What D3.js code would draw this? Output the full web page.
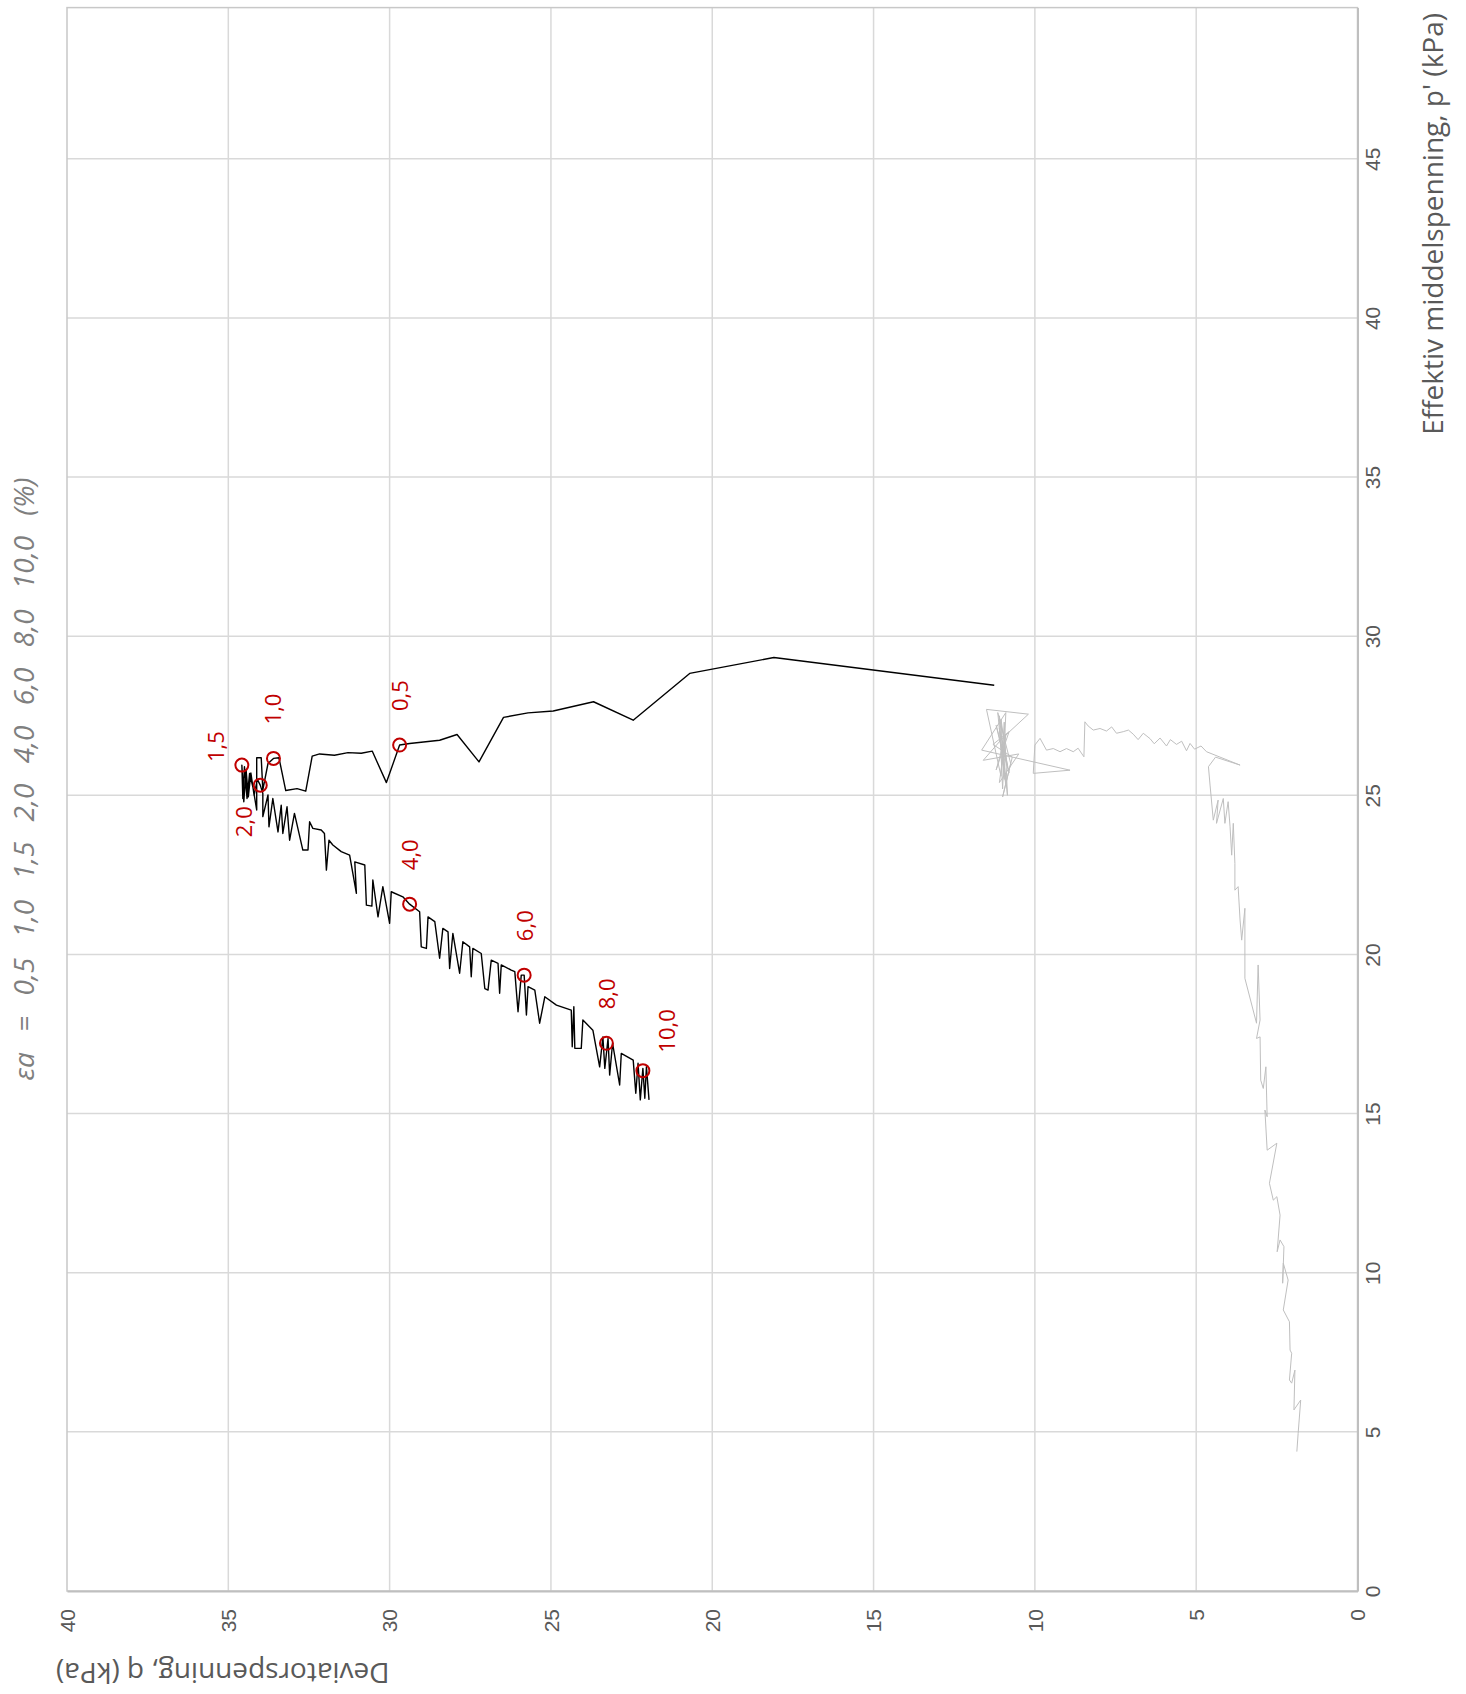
<!DOCTYPE html>
<html>
<head>
<meta charset="utf-8">
<script src="https://cdn.jsdelivr.net/npm/d3@7"></script>
<style>
  body { margin: 0; background: #fff; }
  svg { display: block; font-family: "Open Sans", sans-serif; }
</style>
</head>
<body>
<svg id="chart" width="1466" height="1694"></svg>
<script>
// ---------------------------
// Data (q = deviatorspenning, p = effektiv middelspenning, kPa)
// ---------------------------
const blackQ = [11.26, 18.09, 20.70, 22.45, 23.68, 24.93, 25.71, 26.47, 27.23, 27.91, 28.45, 29.38, 29.69,
  30.10, 30.54, 30.88, 31.29, 31.71, 32.17, 32.40, 32.60, 32.87, 33.22, 33.43, 33.60,
  33.77, 33.93, 33.98, 34.12, 34.12, 34.24, 34.34, 34.42, 34.50, 34.55, 34.58,
  34.52, 34.45, 34.38, 34.30, 34.20, 34.10, 34.01,
  33.93, 33.93, 33.77, 33.74, 33.62, 33.46, 33.36, 33.31, 33.18, 33.10, 32.95, 32.69, 32.53, 32.48,
  32.38, 32.12, 32.02, 31.96, 31.88, 31.76, 31.50, 31.24, 31.03, 31.08, 30.77, 30.72, 30.55, 30.52,
  30.36, 30.21, 30.00, 29.95, 29.59, 29.38, 29.07, 29.02, 28.86, 28.81, 28.60, 28.45, 28.35, 28.19,
  28.14, 28.04, 27.83, 27.73, 27.52, 27.47, 27.42, 27.16, 27.05, 26.95, 26.85, 26.64, 26.59, 26.54,
  26.23, 26.12, 26.02, 25.92, 25.83, 25.76, 25.71, 25.50, 25.35, 25.19, 24.83, 24.37, 24.34, 24.29,
  24.26, 24.06, 24.01, 23.70, 23.49, 23.39, 23.33, 23.23, 23.18, 23.09, 22.87, 22.82, 22.45, 22.37,
  22.30, 22.23, 22.15, 22.09, 22.04, 21.96];
const blackP = [28.46, 29.33, 28.83, 27.36, 27.94, 27.65, 27.59, 27.45, 26.05, 26.91, 26.73, 26.63, 26.58,
  25.40, 26.39, 26.32, 26.34, 26.26, 26.30, 26.23, 25.13, 25.21, 25.15, 26.18, 26.16,
  26.00, 25.17, 26.18, 26.18, 24.54, 25.27, 25.69, 24.90, 25.90, 24.90, 25.95,
  24.80, 25.80, 24.95, 25.70, 25.00, 25.50, 25.32,
  25.06, 24.33, 25.01, 24.01, 24.90, 23.85, 24.69, 23.80, 24.64, 23.59, 24.43, 23.28, 23.28, 24.17,
  23.96, 23.91, 23.80, 22.65, 23.59, 23.44, 23.23, 23.12, 21.92, 22.91, 22.81, 21.55, 21.52, 22.34,
  21.18, 22.13, 20.98, 21.97, 21.81, 21.58, 21.34, 20.24, 20.19, 21.18, 21.03, 19.88, 20.82, 20.71,
  19.56, 20.66, 19.41, 20.40, 20.24, 19.30, 20.19, 20.03, 18.93, 18.88, 19.82, 19.72, 18.78, 19.67,
  19.51, 19.46, 18.20, 19.35, 19.35, 18.10, 18.99, 18.88, 17.84, 18.67, 18.41, 18.25, 17.10, 18.36,
  17.05, 17.05, 17.94, 17.62, 16.47, 17.41, 16.42, 17.36, 16.21, 17.21, 15.90, 16.89, 16.68, 15.64,
  16.58, 15.43, 16.42, 15.48, 16.47, 15.43];

const grayQ = [1.88, 1.84, 1.76, 1.97, 1.94, 2.04, 2.11, 2.04, 2.09, 2.11, 2.30, 2.15, 2.30, 2.32, 2.28,
  2.40, 2.49, 2.40, 2.50, 2.61, 2.73, 2.50, 2.80, 2.87, 2.80, 2.84, 2.92, 3.00, 3.02, 3.13, 3.02, 3.08,
  3.13, 3.49, 3.49, 3.59, 3.64, 3.70, 3.80, 3.80, 3.85, 3.90, 3.95, 4.01, 4.11, 4.16, 4.37, 4.32, 4.47,
  4.57, 4.62, 4.40, 3.64, 4.68, 4.85, 5.05, 5.19, 5.30, 5.45, 5.61, 5.80, 5.92, 6.12, 6.30, 6.43, 6.64,
  6.80, 6.95, 7.10, 7.26, 7.47, 7.62, 7.78, 7.98, 8.19, 8.35, 8.45, 8.48, 8.66, 8.81, 9.02, 9.22, 9.43,
  9.64, 9.84, 10.00, 10.05, 8.91, 11.65, 10.90, 11.00, 11.10, 10.85, 10.95, 11.05, 11.50, 10.20, 11.00,
  11.60, 10.50, 11.10, 10.90, 11.20, 10.80, 11.30, 10.70, 11.00, 10.75, 11.15, 10.95, 11.05, 10.85,
  11.10, 10.90, 11.00, 10.80, 11.20, 10.95, 11.05];
const grayP = [4.38, 4.95, 6.00, 5.69, 6.94, 6.53, 6.63, 7.47, 7.57, 8.46, 8.83, 9.77, 10.30, 9.67, 10.82,
  11.03, 10.66, 11.81, 12.39, 12.28, 12.81, 14.07, 13.85, 15.11, 14.90, 16.47, 15.79, 16.05, 17.41, 17.36,
  17.94, 19.67, 17.84, 19.25, 21.45, 20.45, 21.08, 22.13, 22.02, 22.86, 24.12, 23.12, 24.01, 24.80, 24.12,
  24.90, 24.12, 24.85, 24.22, 25.32, 25.90, 26.20, 25.95, 26.37, 26.55, 26.45, 26.63, 26.40, 26.70, 26.60,
  26.75, 26.55, 26.80, 26.62, 26.78, 26.95, 26.75, 26.92, 27.05, 27.00, 26.95, 27.15, 27.02, 27.10, 27.05,
  27.18, 27.31, 26.21, 26.48, 26.37, 26.47, 26.37, 26.47, 26.42, 26.79, 26.58, 25.69, 25.79, 26.42, 27.60,
  25.20, 27.50, 25.00, 27.30, 25.60, 27.70, 27.55, 26.80, 26.10, 26.30, 25.40, 26.90, 25.80, 27.00, 26.60,
  26.20, 24.95, 26.00, 27.60, 25.50, 27.40, 25.90, 27.10, 25.30, 26.70, 25.70, 27.20, 26.10, 26.50];

// Markers for axial strain
const strainEa = [0.5, 1.0, 1.5, 2.0, 4.0, 6.0, 8.0, 10.0];
const strainQ = [29.69, 33.60, 34.58, 34.01, 29.38, 25.83, 23.28, 22.15];
const strainP = [26.58, 26.16, 25.95, 25.32, 21.58, 19.35, 17.21, 16.35];

const qTicks = [0, 5, 10, 15, 20, 25, 30, 35, 40];
const pTicks = [0, 5, 10, 15, 20, 25, 30, 35, 40, 45];

// label placement (px) relative to marker: [along p' axis, across]
const labelOffset = [[34, 1], [34, 0], [3, -26], [-52, -16], [34, 1], [34, 1], [34, 1], [18, 24]];

// ---------------------------
// Layout
// ---------------------------
const svg = d3.select('#chart');
const plot = { left: 67, right: 1357.5, top: 7.6, bottom: 1591 };
const pMax = 49.75;

const qScale = d3.scaleLinear().domain([0, 40]).range([plot.right, plot.left]);
const pScale = d3.scaleLinear().domain([0, pMax]).range([plot.bottom, plot.top]);

const fmt = d3.formatLocale({ decimal: ',', thousands: ' ', grouping: [3], currency: ['', ''] }).format('.1f');

const tickColor = '#595959';
const gridColor = '#d9d9d9';

// grid
svg.append('g').selectAll('line.vq')
  .data(qTicks.filter(d => d > 0 && d < 40))
  .join('line')
  .attr('x1', d => qScale(d)).attr('x2', d => qScale(d))
  .attr('y1', plot.top).attr('y2', plot.bottom)
  .attr('stroke', gridColor).attr('stroke-width', 1.5);

svg.append('g').selectAll('line.hp')
  .data(pTicks.filter(d => d > 0))
  .join('line')
  .attr('x1', plot.left).attr('x2', plot.right)
  .attr('y1', d => pScale(d)).attr('y2', d => pScale(d))
  .attr('stroke', gridColor).attr('stroke-width', 1.5);

// plot frame
svg.append('rect')
  .attr('x', plot.left).attr('y', plot.top)
  .attr('width', plot.right - plot.left).attr('height', plot.bottom - plot.top)
  .attr('fill', 'none').attr('stroke', '#c8c8c8').attr('stroke-width', 1.5);

// axes
const qAxis = svg.append('g')
  .attr('transform', `translate(0,${plot.bottom})`)
  .call(d3.axisBottom(qScale).tickValues(qTicks).tickSize(0).tickFormat(d3.format('d')));
qAxis.select('.domain').attr('stroke', '#bfbfbf').attr('stroke-width', 2);
qAxis.selectAll('.tick text')
  .attr('fill', tickColor).attr('font-size', 21)
  .attr('text-anchor', 'end')
  .attr('y', 0).attr('dy', '0.35em')
  .attr('transform', 'translate(0,18) rotate(-90)');

const pAxis = svg.append('g')
  .attr('transform', `translate(${plot.right},0)`)
  .call(d3.axisRight(pScale).tickValues(pTicks).tickSize(0).tickFormat(d3.format('d')));
pAxis.select('.domain').attr('stroke', '#bfbfbf').attr('stroke-width', 2);
pAxis.selectAll('.tick text')
  .attr('fill', tickColor).attr('font-size', 21)
  .attr('text-anchor', 'middle')
  .attr('x', 0).attr('dy', '0.35em')
  .attr('transform', 'translate(15,0) rotate(-90)');

// axis titles
svg.append('text')
  .attr('transform', `translate(1433,13) rotate(-90)`)
  .attr('text-anchor', 'end').attr('dy', '0.35em')
  .attr('fill', tickColor).attr('font-size', 28)
  .text("Effektiv middelspenning, p' (kPa)");

svg.append('text')
  .attr('transform', `translate(56,1673) rotate(180)`)
  .attr('text-anchor', 'end').attr('dy', '0.35em')
  .attr('fill', tickColor).attr('font-size', 28)
  .text('Deviatorspenning, q (kPa)');

// chart title
svg.append('text')
  .attr('transform', `translate(24,779) rotate(-90)`)
  .attr('text-anchor', 'middle').attr('dy', '0.35em')
  .attr('fill', '#7f7f7f').attr('font-size', 28).attr('font-style', 'italic')
  .attr('word-spacing', 13)
  .text('\u03b5a = ' + strainEa.map(fmt).join(' ') + ' (%)');

// ---------------------------
// Series
// ---------------------------
const line = d3.line().x(d => qScale(d[0])).y(d => pScale(d[1]));

svg.append('path')
  .datum(d3.zip(grayQ, grayP))
  .attr('d', line)
  .attr('fill', 'none').attr('stroke', '#bfbfbf').attr('stroke-width', 1);

svg.append('path')
  .datum(d3.zip(blackQ, blackP))
  .attr('d', line)
  .attr('fill', 'none').attr('stroke', '#000').attr('stroke-width', 1.4)
  .attr('stroke-linejoin', 'round');

const marks = d3.zip(strainEa, strainQ, strainP, labelOffset);

svg.append('g').selectAll('circle')
  .data(marks)
  .join('circle')
  .attr('cx', d => qScale(d[1])).attr('cy', d => pScale(d[2]))
  .attr('r', 6.5)
  .attr('fill', 'none').attr('stroke', '#c00000').attr('stroke-width', 2);

svg.append('g').selectAll('text')
  .data(marks)
  .join('text')
  .attr('transform', d => `translate(${qScale(d[1]) + d[3][1]},${pScale(d[2]) - d[3][0]}) rotate(-90)`)
  .attr('text-anchor', 'start').attr('dy', '0.35em')
  .attr('fill', '#c00000').attr('font-size', 22)
  .text(d => fmt(d[0]));
</script>
</body>
</html>
